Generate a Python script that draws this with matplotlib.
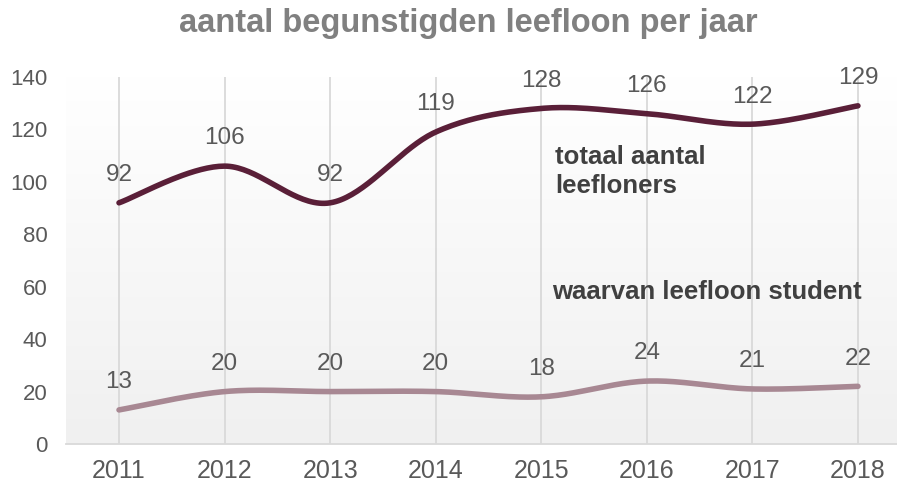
import numpy as np
import matplotlib.pyplot as plt
from matplotlib.colors import LinearSegmentedColormap

# data
years = ['2011', '2012', '2013', '2014', '2015', '2016', '2017', '2018']
totaal = [92, 106, 92, 119, 128, 126, 122, 129]
student = [13, 20, 20, 20, 18, 24, 21, 22]

plt.rcParams['font.family'] = ['Liberation Sans', 'DejaVu Sans']


def smooth(x, y, n=40):
    # Excel-like smoothed line (Catmull-Rom via cubic bezier)
    x = np.asarray(x, float)
    y = np.asarray(y, float)
    px = np.concatenate([[x[0]], x, [x[-1]]])
    py = np.concatenate([[y[0]], y, [y[-1]]])
    xs, ys = [], []
    t = np.linspace(0, 1, n)
    for i in range(1, len(px) - 2):
        p0 = np.array([px[i], py[i]])
        p3 = np.array([px[i + 1], py[i + 1]])
        p1 = p0 + (np.array([px[i + 1], py[i + 1]]) - np.array([px[i - 1], py[i - 1]])) / 6
        p2 = p3 - (np.array([px[i + 2], py[i + 2]]) - np.array([px[i], py[i]])) / 6
        b = ((1 - t) ** 3)[:, None] * p0 + (3 * (1 - t) ** 2 * t)[:, None] * p1 \
            + (3 * (1 - t) * t ** 2)[:, None] * p2 + (t ** 3)[:, None] * p3
        xs.extend(b[:, 0])
        ys.extend(b[:, 1])
    return np.array(xs), np.array(ys)


fig = plt.figure(figsize=(8.97, 4.86), dpi=100)
ax = fig.add_axes([0.0736, 0.0864, 0.9264, 0.7552])

x = np.arange(len(years))
ax.set_xlim(-0.502, 7.37)
ax.set_ylim(0, 140)

# gradient background
grad = np.linspace(0, 1, 256)[:, None]
cmap = LinearSegmentedColormap.from_list('bg', ['#f0f0f0', '#ffffff'])
ax.imshow(grad, extent=[-0.502, 7.37, 0, 140], origin='lower', aspect='auto',
          cmap=cmap, zorder=0)

for xi in x:
    ax.axvline(xi, color='#d9d9d9', lw=1.3, zorder=1)

sx, sy = smooth(x, totaal)
ax.plot(sx, sy, color='#5a1f38', lw=4, solid_capstyle='round', zorder=3)
sx, sy = smooth(x, student)
ax.plot(sx, sy, color='#a88893', lw=4, solid_capstyle='round', zorder=3)

for xi, v in zip(x, totaal):
    ax.annotate(str(v), (xi, v), xytext=(0, 12), textcoords='offset points',
                ha='center', va='bottom', fontsize=17.5, color='#595959')
for xi, v in zip(x, student):
    ax.annotate(str(v), (xi, v), xytext=(0, 12), textcoords='offset points',
                ha='center', va='bottom', fontsize=17.5, color='#595959')

ax.text(4.13, 104, 'totaal aantal\nleefloners', fontsize=18.5, fontweight='bold',
        color='#404040', ha='left', va='center', linespacing=1.3)
ax.text(4.10, 58, 'waarvan leefloon student', fontsize=18.5, fontweight='bold',
        color='#404040', ha='left', va='center')

ax.set_xticks(x)
ax.set_xticklabels(years)
ax.set_yticks(range(0, 141, 20))
ax.tick_params(axis='x', length=0, labelsize=18, colors='#595959', pad=11)
ax.tick_params(axis='y', length=0, labelsize=16, colors='#595959', pad=13.5)
for s in ['top', 'right', 'left']:
    ax.spines[s].set_visible(False)
ax.spines['bottom'].set_color('#d9d9d9')
ax.spines['bottom'].set_linewidth(1.3)

fig.text(0.522, 0.952, 'aantal begunstigden leefloon per jaar', ha='center', va='center',
         fontsize=23.5, fontweight='bold', color='#808080')

fig.savefig('out.png', dpi=100)
